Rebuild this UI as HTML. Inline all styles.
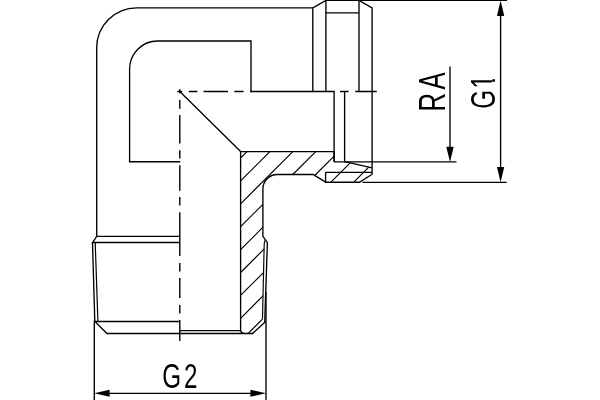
<!DOCTYPE html>
<html lang="en">
<head>
<meta charset="utf-8">
<title>Elbow fitting drawing</title>
<style>
html,body{margin:0;padding:0;background:#fff;}
body{width:600px;height:400px;overflow:hidden;}
svg{display:block;will-change:transform;}
.o{fill:none;stroke:#000;stroke-width:1.35;stroke-linecap:butt;stroke-linejoin:miter;}
.t{fill:none;stroke:#000;stroke-width:1.35;}
.h{fill:none;stroke:#000;stroke-width:1.15;}
.c{fill:none;stroke:#000;stroke-width:1.4;}
.a{fill:#000;stroke:none;}
text{font-family:"Liberation Sans",sans-serif;fill:#000;}
</style>
</head>
<body>
<svg width="600" height="400" viewBox="0 0 600 400">
<rect x="0" y="0" width="600" height="400" fill="#ffffff"/>

<!-- elbow exterior -->
<g class="o">
<path d="M312.8,7.8 H136.7 A40,40 0 0 0 96.7,47.8 V236.3"/>
<path d="M251,91.5 V41 H157.6 A28,28 0 0 0 129.6,69 V161.7 H180.2"/>
<path d="M179.8,236.3 H96.7 L92.6,242.5 H179.8"/>
<path d="M92.5,242.5 L94.8,321.5"/>
<path style="stroke-width:1.2" d="M95.2,242.5 L97.9,321.5"/>
<path d="M179.8,321.5 H94.8 L107,333.45 H252.6 L265.4,321.8"/>
<path d="M179.8,91.5 L240.6,151.6"/>
<!-- section -->
<path d="M334.1,161.8 V151.6 H240.6 V330.2 Q240.7,333.2 244,333.4"/>
<path d="M179.8,330.55 H240.6"/>
<path d="M325.6,182.2 L313,174.5 H277.4 A14.5,14.5 0 0 0 262.9,189 V236.3 L267.4,242.6 L264.7,322.2"/>
<path style="stroke-width:1.15" d="M265.4,239.9 Q264.5,241 264.2,244 L262.5,318.8"/>
<!-- arm / ring -->
<path d="M325.6,172.3 V182.2 H359.6 L372.1,174.2 V7.8 L359,0.4"/>
<path d="M325.6,172.3 H372.1"/>
<path d="M344.5,161.8 L347,162.1 L372.1,167.9"/>
<!-- nut -->
<path d="M312.8,91.5 V7.8 L325.9,0.4"/>
<path d="M325.9,0 V91.5"/>
<path d="M325.9,12.8 H359"/>
<path d="M359,0 V91.5"/>
<path d="M251,91.5 H334.1 V161.8"/>
<path d="M344.6,91.5 V161.8"/>
<path d="M325.9,0.4 H507"/>
</g>

<!-- extension + dimension lines -->
<g class="t">
<path d="M334,161.8 H456.5"/>
<path d="M362.5,182.3 H506.8"/>
<path d="M450,66.4 V150"/>
<path d="M500.6,10 V170"/>
<path d="M94.3,321.5 V400"/>
<path d="M266,292 V400"/>
<path d="M105,393.3 H256"/>
</g>
<g class="a">
<path d="M450,162 L446.3,146.8 H453.7 Z"/>
<path d="M500.6,182.2 L496.95,167 H504.25 Z"/>
<path d="M500.6,0.6 L496.95,16 H504.25 Z"/>
<path d="M94.3,393.3 L109.6,389.75 V396.85 Z"/>
<path d="M266,393.3 L250.4,389.75 V396.85 Z"/>
</g>

<!-- centre lines -->
<g class="c">
<path d="M177.3,91.5 H182.2 M188.8,91.5 H197.4 M203.6,91.5 H228 M234.4,91.5 H243.6 M250,91.5 H252 M340,91.5 H348.6 M355.3,91.5 H376.8"/>
<path d="M179.8,89.2 V93.2 M179.8,100 V108.8 M179.8,115 V143.5 M179.8,150.2 V158.6 M179.8,165.2 V190.7 M179.8,197 V205.6 M179.8,212.2 V256 M179.8,263 V271.6 M179.8,278 V298 M179.8,305 V313.6 M179.8,320 V341"/>
</g>

<!-- hatching -->
<g class="h">
<path d="M240.6,158 L247,151.6"/>
<path d="M240.6,180.9 L269.9,151.6"/>
<path d="M240.6,203.8 L292.8,151.6"/>
<path d="M315.7,151.6 L292.8,174.5"/>
<path d="M262.9,204.4 L240.6,226.7"/>
<path d="M334.1,156.1 L314.7,175.5"/>
<path d="M263,227.2 L240.6,249.6"/>
<path d="M330.9,182.2 L350.2,162.9"/>
<path d="M264.3,248.8 L240.6,272.5"/>
<path d="M353.8,182.2 L368.8,167.2"/>
<path d="M263.7,272.3 L240.6,295.4"/>
<path d="M263.2,295.7 L240.6,318.3"/>
<path d="M262.7,318.9 L248.2,333.4"/>
</g>

<!-- labels -->
<text id="g2" transform="translate(162.28,388) scale(0.68,1)" x="0 31.87" y="0" font-size="35.6">G2</text>
<text id="ra" transform="translate(445,109.4) rotate(-90) scale(0.70,1)" x="-3.02 28.5" y="0" font-size="36.8">RA</text>
<clipPath id="k1" clipPathUnits="userSpaceOnUse"><path clip-rule="evenodd" d="M0,0 H600 V400 H0 Z M491.5,74.5 H496.5 V79.35 H491.5 Z M491.5,81.65 H496.5 V88.5 H491.5 Z"/></clipPath>
<g clip-path="url(#k1)">
<text id="g1" transform="translate(495,107.5) rotate(-90) scale(0.68,1)" x="-1.79 27.95" y="0" font-size="35.6">G1</text>
</g>
</svg>
</body>
</html>
